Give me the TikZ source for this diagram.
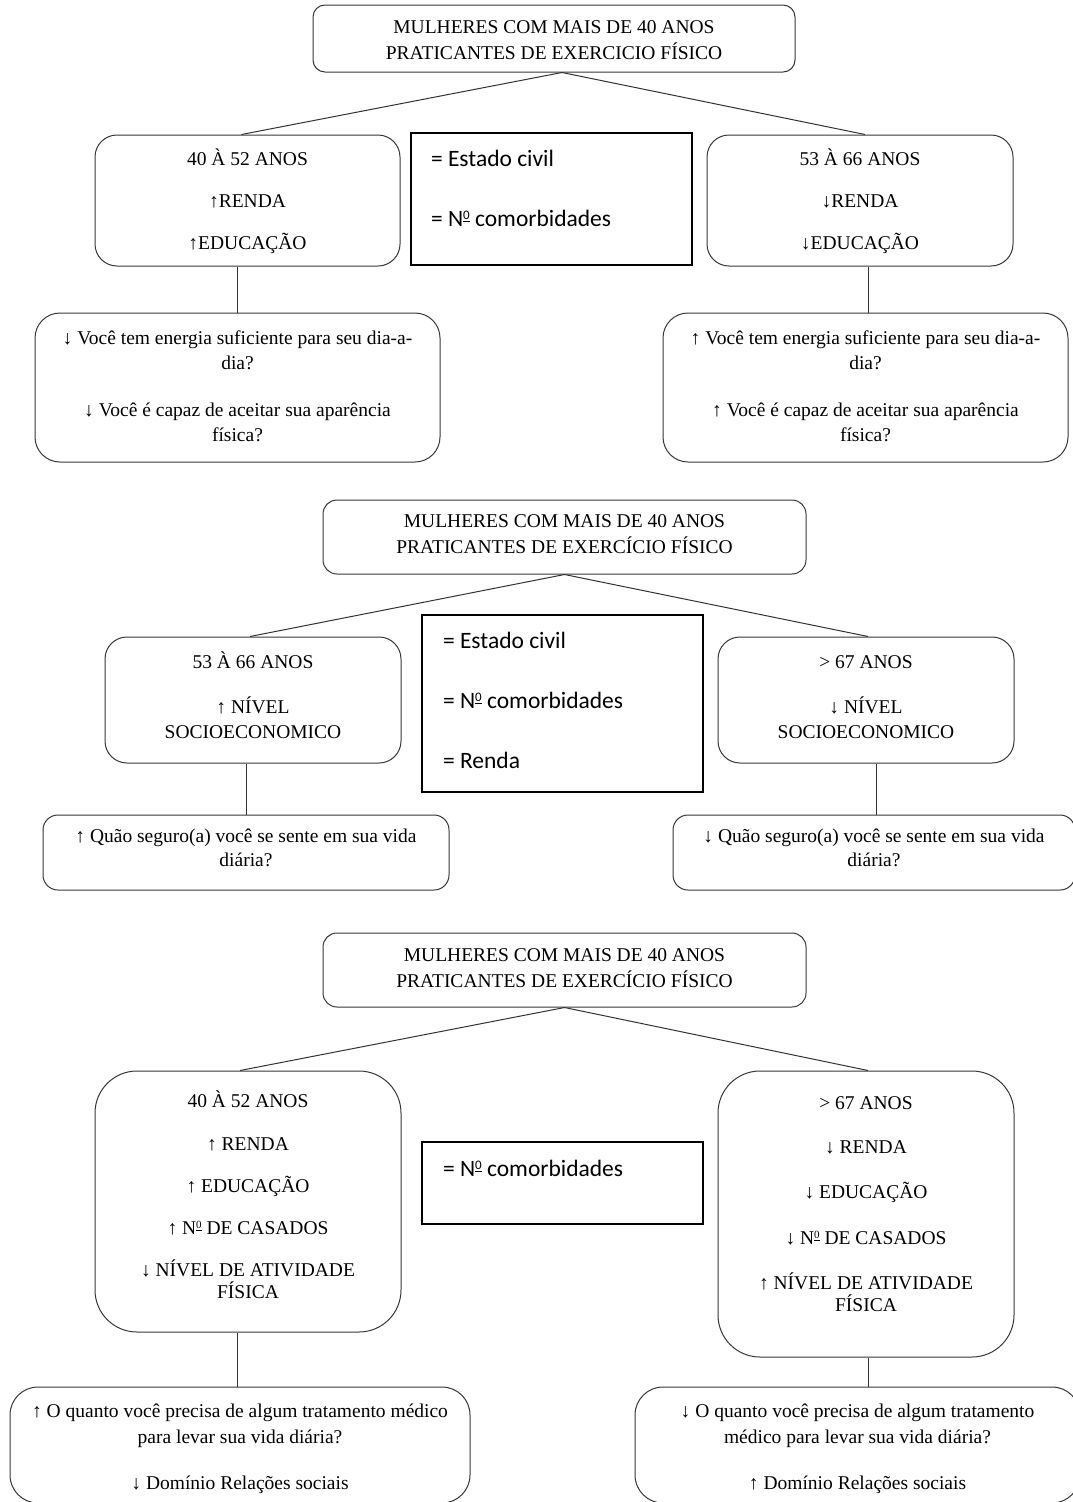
\documentclass[tikz,border=0pt]{standalone}
\usepackage{fontspec}
\setmainfont{Liberation Serif}
\newfontfamily\calib{Carlito}
% #1 width, #2 height, #3 first-baseline offset, #4 text
\newcommand{\cbox}[4]{\parbox[c][#2pt][t]{#1pt}{\centering\rule{0pt}{#3pt}#4\par}}
% #1 width, #2 height, #3 first-baseline offset, #4 left pad, #5 text
\newcommand{\lbox}[5]{\parbox[c][#2pt][t]{#1pt}{\raggedright\leftskip=#4pt\rule{0pt}{#3pt}#5\par}}
\newcommand{\sr}[1]{\fontsize{19.5}{#1}\selectfont}
\newcommand{\sn}{\calib\fontsize{23.5}{60}\selectfont}
\newcommand{\numo}{N\raisebox{7pt}{\fontsize{13}{13}\selectfont\underline{0}}}
\newcommand{\numos}{N\raisebox{6pt}{\fontsize{11}{11}\selectfont\underline{0}}}
\begin{document}
\begin{tikzpicture}[x=1pt,y=-1pt,
  rb/.style={draw=black!78, line width=1pt, rounded corners=#1, inner sep=0pt},
  mb/.style={draw=black, line width=1.8pt, inner sep=0pt},
  cn/.style={draw=black!80, line width=1pt}]
\useasboundingbox (0,0) rectangle (1073,1502);
\fill[white] (0,0) rectangle (1073,1502);

% ---------------- Panel 1 ----------------
\node[rb=12pt] (t1) at (554,38.5) {\cbox{482}{67}{28.5}{\sr{26}MULHERES COM MAIS DE 40 ANOS\\PRATICANTES DE EXERCICIO FÍSICO}};
\node[rb=22pt] (a1) at (247.5,200.5) {\cbox{305}{131}{30.5}{\sr{42}40 À 52 ANOS\\↑RENDA\\↑EDUCAÇÃO}};
\node[mb] (m1) at (551.5,199) {\lbox{281}{132}{33.5}{20}{\sn = Estado civil\\= \numo{} comorbidades}};
\node[rb=22pt] (b1) at (860,200.5) {\cbox{306}{131}{30.5}{\sr{42}53 À 66 ANOS\\↓RENDA\\↓EDUCAÇÃO}};
\node[rb=25pt] (c1) at (237.5,387.5) {\cbox{405}{149}{31.5}{\sr{25}↓ Você tem energia suficiente para seu dia-a-\\dia?\\[22pt]↓ Você é capaz de aceitar sua aparência\\física?}};
\node[rb=25pt] (d1) at (865.5,387.5) {\cbox{405}{149}{31.5}{\sr{25}↑ Você tem energia suficiente para seu dia-a-\\dia?\\[22pt]↑ Você é capaz de aceitar sua aparência\\física?}};

\draw[cn] ([xshift=8pt]t1.south) -- ([xshift=-6pt]a1.north);
\draw[cn] ([xshift=8pt]t1.south) -- ([xshift=5pt]b1.north);
\draw[cn] (c1.north |- a1.south) -- (c1.north);
\draw[cn] ([xshift=2.5pt]d1.north |- b1.south) -- ([xshift=2.5pt]d1.north);

% ---------------- Panel 2 ----------------
\node[rb=14pt] (t2) at (564.5,537) {\cbox{483}{74}{27.5}{\sr{26}MULHERES COM MAIS DE 40 ANOS\\PRATICANTES DE EXERCÍCIO FÍSICO}};
\node[rb=22pt] (a2) at (253,700) {\cbox{296}{126}{31.5}{\sr{25}53 À 66 ANOS\\[20pt]↑ NÍVEL\\SOCIOECONOMICO}};
\node[mb] (m2) at (562.5,703.5) {\lbox{281}{177}{33.5}{21}{\sn = Estado civil\\= \numo{} comorbidades\\= Renda}};
\node[rb=22pt] (b2) at (866,700) {\cbox{296}{126}{31.5}{\sr{25}> 67 ANOS\\[20pt]↓ NÍVEL\\SOCIOECONOMICO}};
\node[rb=15pt] (c2) at (246,852.5) {\cbox{406}{75}{27.5}{\sr{24}↑ Quão seguro(a) você se sente em sua vida\\diária?}};
\node[rb=15pt] (d2) at (874,852.5) {\cbox{402}{75}{27.5}{\sr{24}↓ Quão seguro(a) você se sente em sua vida\\diária?}};

\draw[cn] (t2.south) -- ([xshift=-3pt]a2.north);
\draw[cn] (t2.south) -- ([xshift=2pt]b2.north);
\draw[cn] (c2.north |- a2.south) -- (c2.north);
\draw[cn] ([xshift=2pt]d2.north |- b2.south) -- ([xshift=2pt]d2.north);

% ---------------- Panel 3 ----------------
\node[rb=14pt] (t3) at (564.5,970) {\cbox{483}{74}{28.5}{\sr{26}MULHERES COM MAIS DE 40 ANOS\\PRATICANTES DE EXERCÍCIO FÍSICO}};
\node[rb=42pt] (a3) at (248,1201.5) {\cbox{306}{261}{36.5}{\sr{22}40 À 52 ANOS\\[21pt]↑ RENDA\\[20pt]↑ EDUCAÇÃO\\[20pt]↑ \numos{} DE CASADOS\\[20pt]↓ NÍVEL DE ATIVIDADE\\FÍSICA}};
\node[mb] (m3) at (562.5,1183) {\lbox{281}{82}{34.5}{21}{\sn = \numo{} comorbidades}};
\node[rb=42pt] (b3) at (866,1214) {\cbox{296}{286}{38.5}{\sr{22}> 67 ANOS\\[22pt]↓ RENDA\\[23pt]↓ EDUCAÇÃO\\[24pt]↓ \numos{} DE CASADOS\\[23pt]↑ NÍVEL DE ATIVIDADE\\FÍSICA}};
\node[rb=28pt] (c3) at (240,1445) {\cbox{460}{116}{30.5}{\sr{26}↑ O quanto você precisa de algum tratamento médico\\para levar sua vida diária?\\[20pt]↓ Domínio Relações sociais}};
\node[rb=28pt] (d3) at (857.5,1445) {\cbox{445}{116}{30.5}{\sr{26}↓ O quanto você precisa de algum tratamento\\médico para levar sua vida diária?\\[20pt]↑ Domínio Relações sociais}};

\draw[cn] (t3.south) -- ([xshift=-8pt]a3.north);
\draw[cn] (t3.south) -- ([xshift=2pt]b3.north);
\draw[cn] ([xshift=-3pt]c3.north |- a3.south) -- ([xshift=-3pt]c3.north);
\draw[cn] ([xshift=2pt]b3.south) -- ([xshift=2pt]b3.south |- d3.north);
\end{tikzpicture}
\end{document}
